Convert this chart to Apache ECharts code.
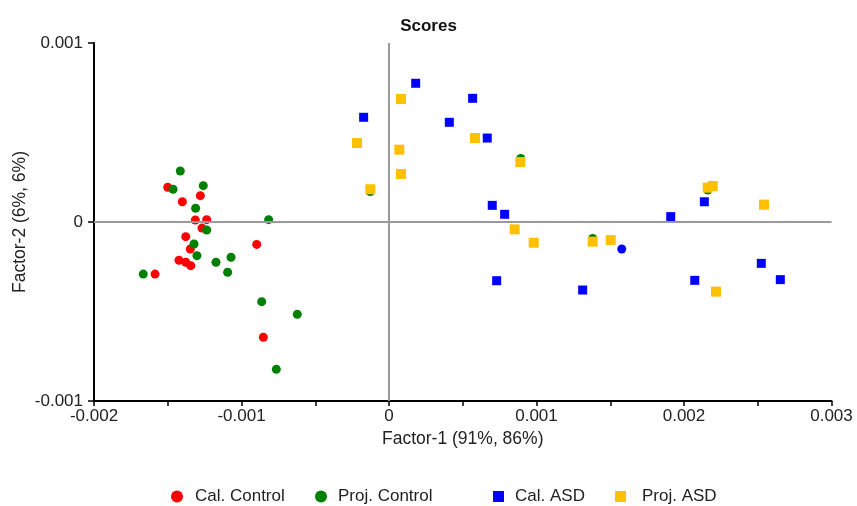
<!DOCTYPE html>
<html>
<head>
<meta charset="utf-8">
<script src="https://cdn.jsdelivr.net/npm/echarts@6/dist/echarts.min.js"></script>
<style>html,body{margin:0;padding:0;background:#fff}#c{width:857px;height:506px}</style>
</head>
<body>
<div id="c"></div>
<script>
// values in units of 1e-3
const calControl = [
  [-1.500, 0.194], [-1.279, 0.147], [-1.401, 0.113], [-1.313, 0.011], [-1.236, 0.013],
  [-1.268, -0.034], [-1.378, -0.082], [-1.347, -0.151], [-1.424, -0.214], [-1.378, -0.225],
  [-1.344, -0.244], [-1.586, -0.291], [-0.897, -0.125], [-0.852, -0.644]
];
const projControl = [
  [-1.415, 0.285], [-1.464, 0.183], [-1.259, 0.203], [-1.311, 0.077], [-1.236, -0.045],
  [-1.322, -0.123], [-1.302, -0.188], [-1.173, -0.225], [-1.071, -0.197], [-1.094, -0.281],
  [-1.666, -0.291], [-0.816, 0.013], [-0.863, -0.445], [-0.622, -0.516], [-0.764, -0.823],
  [-0.127, 0.170], [0.893, 0.355], [1.381, -0.092], [2.161, 0.179]
];
const calASD = [
  [0.181, 0.775], [0.567, 0.691], [-0.172, 0.585], [0.409, 0.557], [0.666, 0.469],
  [0.700, 0.093], [0.784, 0.043], [0.730, -0.328], [1.313, -0.380], [1.910, 0.030],
  [2.138, 0.113], [2.524, -0.231], [2.653, -0.322], [2.073, -0.326]
];
const calASDCircle = [[1.578, -0.151]];
const projASD = [
  [0.081, 0.687], [-0.217, 0.441], [0.583, 0.469], [0.070, 0.404], [0.081, 0.268],
  [0.890, 0.335], [-0.127, 0.183], [0.852, -0.041], [0.981, -0.116], [2.161, 0.192],
  [2.195, 0.201], [2.542, 0.097], [1.381, -0.110], [1.503, -0.101], [2.217, -0.389]
];
const xTicks = [-0.002, -0.001, 0, 0.001, 0.002, 0.003];
const yTicks = [-0.001, 0, 0.001];

const sc = a => a.map(p => [p[0] / 1000, p[1] / 1000]);
const font = 'Liberation Sans, Arial, sans-serif';
const fmt = v => {
  if (Math.abs(v) < 1e-9) return '0';
  return v.toFixed(3);
};

const chart = echarts.init(document.getElementById('c'));
function legendAt(name, icon, left, textPad) {
  return {
    data: [{ name: name, icon: icon }],
    left: left, top: 483,
    itemWidth: icon === 'circle' ? 12 : 11, itemHeight: icon === 'circle' ? 12 : 11,
    textStyle: { fontFamily: font, fontSize: 17, color: '#222', padding: [0, 0, 0, textPad] },
    selectedMode: false
  };
}
chart.setOption({
  animation: false,
  backgroundColor: '#fff',
  title: {
    text: 'Scores', left: 'center', top: 13,
    textStyle: { fontFamily: font, fontSize: 17, fontWeight: 'bold', color: '#111' }
  },
  legend: [
    legendAt('Cal. Control', 'circle', 166, 7),
    legendAt('Proj. Control', 'circle', 310, 6),
    legendAt('Cal. ASD', 'rect', 488, 6),
    legendAt('Proj. ASD', 'rect', 610, 11)
  ],
  grid: { left: 94, right: 25.5, top: 43, bottom: 105, outerBoundsMode: 'none', containLabel: false },
  xAxis: {
    type: 'value', min: -0.002, max: 0.003, interval: 0.001,
    name: 'Factor-1 (91%, 86%)', nameLocation: 'middle', nameGap: 28,
    nameTextStyle: { fontFamily: font, fontSize: 17.5, color: '#222' },
    axisLine: { onZero: false, lineStyle: { color: '#000', width: 2 } },
    axisTick: { show: true, length: 5, lineStyle: { color: '#000', width: 1.5 } },
    minorTick: { show: true, splitNumber: 2, length: 5, lineStyle: { color: '#000', width: 1.5 } },
    axisLabel: { fontFamily: font, fontSize: 17, color: '#222', margin: 7, formatter: fmt,
      customValues: xTicks },
    splitLine: { show: false }
  },
  yAxis: {
    type: 'value', min: -0.001, max: 0.001, interval: 0.001,
    name: 'Factor-2 (6%, 6%)', nameLocation: 'middle', nameGap: 65, nameMoveOverlap: false,
    nameTextStyle: { fontFamily: font, fontSize: 17.5, color: '#222' },
    axisLine: { show: true, onZero: false, lineStyle: { color: '#000', width: 2 } },
    axisTick: { show: true, length: 6, lineStyle: { color: '#000', width: 1.5 } },
    axisLabel: { fontFamily: font, fontSize: 17, color: '#222', margin: 11, formatter: fmt,
      customValues: yTicks },
    splitLine: { show: false }
  },
  series: [
    {
      name: 'Cal. Control', type: 'scatter', symbol: 'circle', symbolSize: 9,
      itemStyle: { color: '#ff0000', opacity: 1 }, data: sc(calControl),
      markLine: {
        silent: true, symbol: 'none', label: { show: false },
        lineStyle: { color: '#9a9a9a', width: 2, type: 'solid' },
        data: [{ xAxis: 0 }, { yAxis: 0 }]
      },
      z: 3
    },
    {
      name: 'Proj. Control', type: 'scatter', symbol: 'circle', symbolSize: 9,
      itemStyle: { color: '#008000', opacity: 1 }, data: sc(projControl), z: 3
    },
    {
      name: 'Cal. ASD', type: 'scatter', symbol: 'rect', symbolSize: 9,
      itemStyle: { color: '#0000ff', opacity: 1 }, data: sc(calASD), z: 4
    },
    {
      name: 'Cal. ASD', type: 'scatter', symbol: 'circle', symbolSize: 9,
      itemStyle: { color: '#0000ff', opacity: 1 }, data: sc(calASDCircle), z: 4
    },
    {
      name: 'Proj. ASD', type: 'scatter', symbol: 'rect', symbolSize: 10,
      itemStyle: { color: '#ffc000', opacity: 1 }, data: sc(projASD), z: 5
    }
  ]
});
</script>
</body>
</html>
